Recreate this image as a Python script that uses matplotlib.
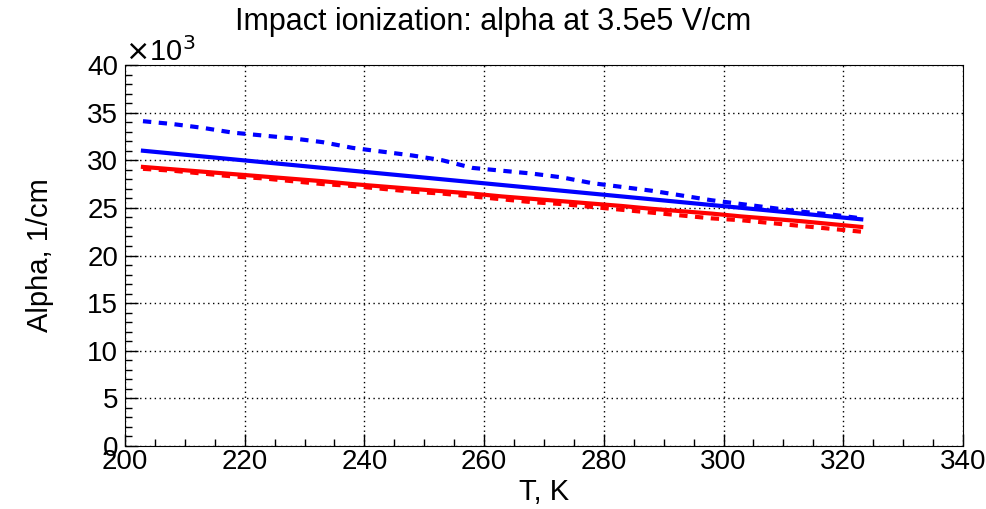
"""
Impact ionization alpha vs temperature at 3.5e5 V/cm.
"""
import matplotlib
matplotlib.use("Agg")
import matplotlib.pyplot as plt
from matplotlib.ticker import MultipleLocator

plt.rcParams['font.family'] = ['Liberation Sans', 'DejaVu Sans']

temps = [203, 208, 213, 218, 223, 228, 233, 238, 243, 248, 253, 258, 263,
         268, 273, 278, 283, 288, 293, 298, 303, 308, 313, 318, 323]
# values in units of 1e3 1/cm
blue_solid = [31.0, 30.7, 30.4, 30.1, 29.8, 29.5, 29.2, 28.9, 28.6, 28.3, 28.0, 27.7, 27.4,
              27.1, 26.8, 26.5, 26.2, 25.9, 25.6, 25.3, 25.0, 24.7, 24.4, 24.1, 23.8]
blue_dash = [34.1, 33.8, 33.4, 32.9, 32.6, 32.3, 31.9, 31.3, 30.9, 30.5, 30.0, 29.2, 28.9,
             28.6, 28.2, 27.6, 27.2, 26.8, 26.3, 25.8, 25.4, 25.0, 24.6, 24.3, 23.9]
red_solid = [29.3, 29.05, 28.8, 28.55, 28.3, 28.05, 27.8, 27.5, 27.25, 27.0, 26.75, 26.5, 26.2,
             25.95, 25.7, 25.45, 25.2, 24.9, 24.65, 24.4, 24.1, 23.85, 23.6, 23.3, 23.0]
red_dash = [29.1, 28.9, 28.6, 28.3, 28.1, 27.8, 27.5, 27.3, 27.0, 26.7, 26.5, 26.2, 25.9,
            25.6, 25.4, 25.1, 24.8, 24.5, 24.2, 23.9, 23.7, 23.4, 23.1, 22.8, 22.5]

fig = plt.figure(figsize=(9.87, 5.09), dpi=100)
ax = fig.add_axes([125 / 987, 1 - 446 / 509, 838 / 987, 381 / 509])

ax.plot(temps, blue_dash, color="#0000ff", lw=3, dashes=(2, 1.8))
ax.plot(temps, blue_solid, color="#0000ff", lw=3)
ax.plot(temps, red_solid, color="#ff0000", lw=3)
ax.plot(temps, red_dash, color="#ff0000", lw=3, dashes=(2, 1.8))

ax.set_xlim(200, 340)
ax.set_ylim(0, 40)
ax.xaxis.set_major_locator(MultipleLocator(20))
ax.xaxis.set_minor_locator(MultipleLocator(5))
ax.yaxis.set_major_locator(MultipleLocator(5))
ax.yaxis.set_minor_locator(MultipleLocator(1))
ax.tick_params(which="both", direction="in", labelsize=20, top=False, right=False)
ax.tick_params(which="major", length=9, width=1)
ax.tick_params(which="minor", length=5, width=1)
ax.tick_params(axis="x", pad=2)
ax.tick_params(axis="y", pad=5)
ax.grid(True, which="major", linestyle=(0, (1, 2.5)), color="black", lw=1)
ax.set_axisbelow(True)

fig.text(0.5, 1 - 22 / 509, "Impact ionization: alpha at 3.5e5 V/cm", fontsize=22,
         ha="center", va="center")
ax.set_xlabel("T, K", fontsize=21, labelpad=2)
ax.set_ylabel("Alpha, 1/cm", fontsize=21, labelpad=24)
ax.text(0.0, 0.995, r"$\times$10$^3$", transform=ax.transAxes, fontsize=21,
        ha="left", va="bottom")

fig.savefig("out.png", dpi=100)
